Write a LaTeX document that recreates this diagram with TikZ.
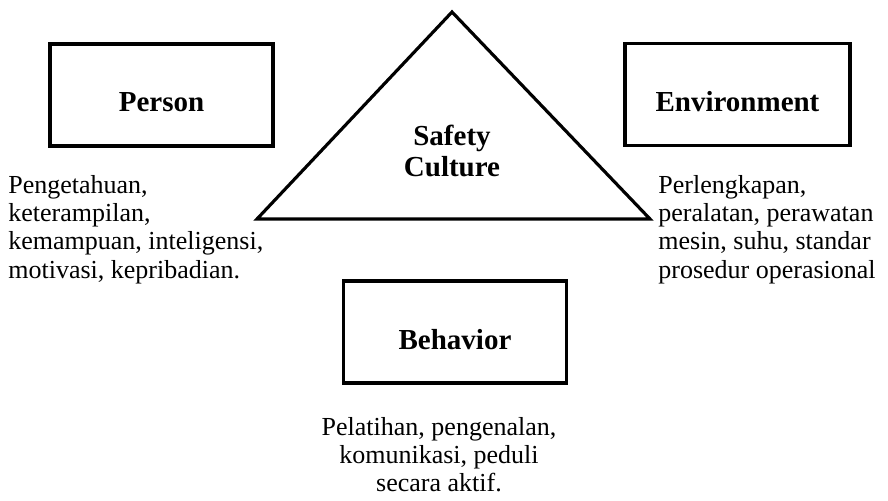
\documentclass[tikz,border=0pt]{standalone}
\usepackage{fontspec}
\setmainfont{Liberation Serif}

\begin{document}
\begin{tikzpicture}[x=0.02cm, y=-0.02cm,
  box/.style={draw, line width=2.1pt, minimum width=4.46cm, minimum height=2.04cm},
  title/.style={font=\fontsize{16.5}{17.6}\selectfont\bfseries, align=center, inner sep=0pt},
  desc/.style={font=\fontsize{14.8}{16.1}\selectfont, inner sep=0pt}]
\useasboundingbox (0,0) rectangle (888,500);

\node[box] (person) at (161.5,95) {};
\node[box, minimum width=4.5cm] (environment) at (737.5,94.5) {};
\node[box] (behavior) at (455,332) {};

\node[title, anchor=base] (personlbl) at (161.5,112) {Person};
\node[title, anchor=base] (environmentlbl) at (737.5,112) {Environment};
\node[title, anchor=base] (behaviorlbl) at (455,349) {Behavior};

\coordinate (apex) at (452,12);
\coordinate (baseR) at (650,219);
\coordinate (baseL) at (257,219);
\draw[line width=1.8pt] (apex) -- (baseR) -- (baseL) -- cycle;
\node[title, anchor=north] (culture) at (452,125) {Safety\\Culture};

\node[desc, anchor=north west, align=left] (persondesc) at (8,175)
  {Pengetahuan,\\keterampilan,\\kemampuan, inteligensi,\\motivasi, kepribadian.};
\node[desc, anchor=north west, align=left] (environmentdesc) at (658,175)
  {Perlengkapan,\\peralatan, perawatan\\mesin, suhu, standar\\prosedur operasional};
\node[desc, anchor=north, align=center] (behaviordesc) at (439,417)
  {Pelatihan, pengenalan,\\komunikasi, peduli\\secara aktif.};
\end{tikzpicture}
\end{document}
